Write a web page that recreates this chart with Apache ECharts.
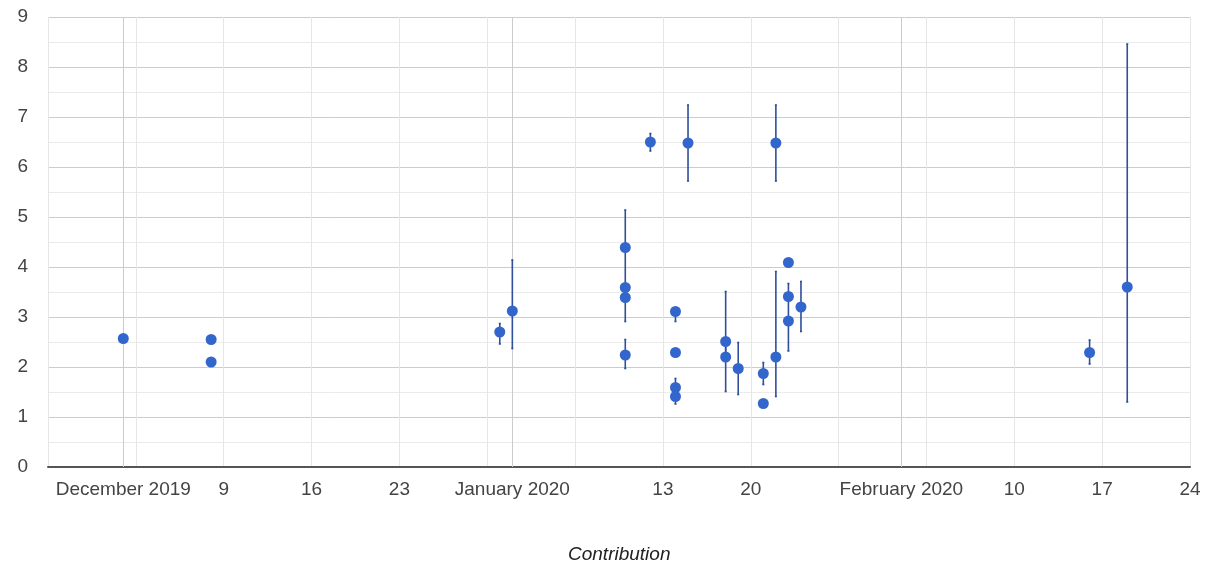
<!DOCTYPE html>
<html>
<head>
<meta charset="utf-8">
<script src="https://cdn.jsdelivr.net/npm/echarts@6/dist/echarts.min.js"></script>
<style>html,body{margin:0;padding:0;background:#fff}#c{width:1208px;height:563px}</style>
</head>
<body>
<div id="c"></div>
<script>
// ---- data ----
var dates = ['2019-12-01','2019-12-08','2019-12-08','2019-12-31','2020-01-01',
  '2020-01-10','2020-01-10','2020-01-10','2020-01-10','2020-01-12',
  '2020-01-14','2020-01-14','2020-01-14','2020-01-14','2020-01-15',
  '2020-01-18','2020-01-18','2020-01-19','2020-01-21','2020-01-21',
  '2020-01-22','2020-01-22','2020-01-23','2020-01-23','2020-01-23',
  '2020-01-24','2020-02-16','2020-02-19'];
var values = [2.57,2.55,2.10,2.70,3.12,
  4.39,3.59,3.39,2.24,6.50,
  3.11,2.29,1.59,1.41,6.48,
  2.51,2.20,1.97,1.87,1.27,
  6.48,2.20,4.09,3.41,2.92,
  3.20,2.29,3.60];
var lows = [null,null,null,2.46,2.37,
  3.59,null,2.91,1.97,6.32,
  2.91,null,1.59,1.26,5.72,
  2.20,1.51,1.45,1.65,null,
  5.72,1.41,null,3.41,2.32,
  2.71,2.06,1.30];
var highs = [null,null,null,2.87,4.14,
  5.14,null,3.59,2.55,6.67,
  3.11,null,1.77,1.41,7.24,
  3.51,2.51,2.49,2.09,null,
  7.24,3.91,null,3.67,3.41,
  3.71,2.54,8.46];
var startDate = '2019-11-25';
var endDate = '2020-02-24';
var weekTickDates = ['2019-11-25','2019-12-02','2019-12-09','2019-12-16','2019-12-23','2019-12-30',
  '2020-01-06','2020-01-13','2020-01-20','2020-01-27','2020-02-03','2020-02-10','2020-02-17','2020-02-24'];
var weekLabelDates = ['2019-12-09','2019-12-16','2019-12-23','2020-01-13','2020-01-20','2020-02-10','2020-02-17','2020-02-24'];
var monthDates = ['2019-12-01','2020-01-01','2020-02-01'];
var monthLabels = ['December 2019','January 2020','February 2020'];
var yTicks = [0,1,2,3,4,5,6,7,8,9];
var axisTitle = 'Contribution';

// ---- helpers ----
function toDay(s){
  var p = s.split('-').map(Number);
  var q = startDate.split('-').map(Number);
  return Math.round((Date.UTC(p[0],p[1]-1,p[2]) - Date.UTC(q[0],q[1]-1,q[2])) / 86400000);
}
function dayToDate(d){
  var q = startDate.split('-').map(Number);
  return new Date(Date.UTC(q[0],q[1]-1,q[2]) + d*86400000);
}
var xMin = 0, xMax = toDay(endDate);
var points = dates.map(function(d,i){ return [toDay(d), values[i]]; });
var bars = [];
dates.forEach(function(d,i){ if (lows[i] != null) bars.push([toDay(d), lows[i], highs[i]]); });
var monthDays = monthDates.map(toDay);
var font = 'Liberation Sans, Arial, sans-serif';

var chart = echarts.init(document.getElementById('c'), null, {renderer:'canvas'});
chart.setOption({
  animation: false,
  backgroundColor: '#ffffff',
  title: {
    text: axisTitle, left: 563, top: 540,
    textStyle: {fontFamily: font, fontSize: 19, fontStyle: 'italic', fontWeight: 'normal', color: '#222'}
  },
  grid: {left: 48, right: 18, top: 17, bottom: 96, containLabel: false},
  xAxis: [{
    type: 'value', min: xMin, max: xMax, position: 'bottom',
    axisLine: {show: true, onZero: false, lineStyle: {color: '#555', width: 2}},
    axisTick: {show: false, customValues: weekTickDates.map(toDay)},
    splitLine: {show: true, lineStyle: {color: '#e6e6e6', width: 1}},
    axisLabel: {
      show: true, margin: 13, hideOverlap: false, showMinLabel: true, showMaxLabel: true,
      customValues: weekLabelDates.map(toDay),
      fontFamily: font, fontSize: 19, color: '#444',
      formatter: function(v){ return String(dayToDate(v).getUTCDate()); }
    },
    z: 1
  },{
    type: 'value', min: xMin, max: xMax, position: 'bottom', offset: 0,
    axisLine: {show: false},
    axisTick: {show: false, customValues: monthDays},
    splitLine: {show: true, lineStyle: {color: '#cccccc', width: 1}},
    axisLabel: {
      show: true, margin: 13, hideOverlap: false,
      customValues: monthDays,
      fontFamily: font, fontSize: 19, color: '#444',
      formatter: function(v){ return monthLabels[monthDays.indexOf(Math.round(v))] || ''; }
    },
    z: 2
  }],
  yAxis: {
    type: 'value', min: yTicks[0], max: yTicks[yTicks.length-1], interval: 1,
    axisLine: {show: false}, axisTick: {show: false},
    axisLabel: {margin: 20, fontFamily: font, fontSize: 19, color: '#444'},
    splitLine: {show: true, lineStyle: {color: '#cccccc', width: 1}},
    minorTick: {show: false, splitNumber: 2},
    minorSplitLine: {show: true, lineStyle: {color: '#ebebeb', width: 1}}
  },
  series: [{
    type: 'custom', xAxisIndex: 0, data: bars, z: 3, silent: true,
    renderItem: function(params, api){
      var x = api.value(0);
      var lo = api.coord([x, api.value(1)]);
      var hi = api.coord([x, api.value(2)]);
      var st = {stroke: '#2f4f9a', lineWidth: 1.6};
      return {type: 'group', children: [
        {type: 'line', shape: {x1: lo[0], y1: lo[1], x2: hi[0], y2: hi[1]}, style: st},
        {type: 'line', shape: {x1: lo[0]-1, y1: lo[1], x2: lo[0]+1, y2: lo[1]}, style: st},
        {type: 'line', shape: {x1: hi[0]-1, y1: hi[1], x2: hi[0]+1, y2: hi[1]}, style: st}
      ]};
    },
    encode: {x: 0, y: [1, 2]}
  },{
    type: 'scatter', xAxisIndex: 0, data: points, symbol: 'circle', symbolSize: 11, z: 4,
    itemStyle: {color: '#3366cc', opacity: 1}
  }]
});
</script>
</body>
</html>
